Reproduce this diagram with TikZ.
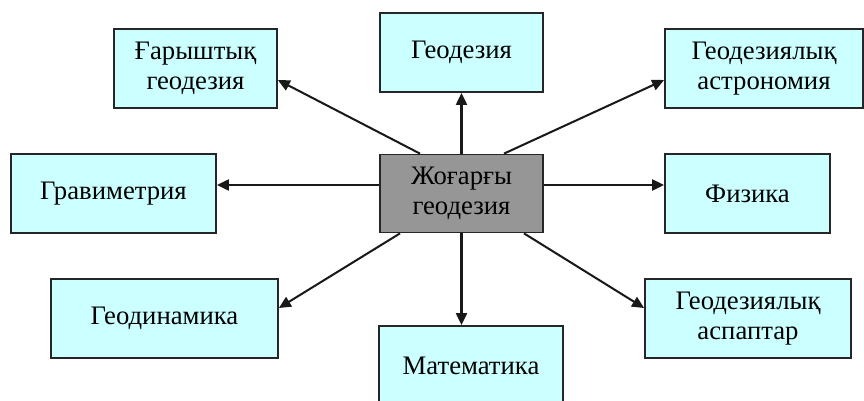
\documentclass[tikz,border=0pt]{standalone}
\usepackage{fontspec}
\setmainfont{Liberation Serif}
\usetikzlibrary{arrows.meta}
\definecolor{lightcyan}{HTML}{CCFFFF}
\definecolor{midgray}{HTML}{969696}
\tikzset{
  subjnode/.style = {align=center, inner sep=0pt, text centered, font=\fontsize{15.2}{17.4}\selectfont, draw=black!85, line width=1pt, minimum height=1.58cm},
  subj_c/.style = {subjnode, fill=lightcyan},
  subj_g/.style = {subjnode, fill=midgray, minimum height=1.56cm},
  link/.style = {draw=black!90, line width=1.15pt, -{Triangle[length=0.24cm,width=0.22cm]}}
}
\begin{document}
\begin{tikzpicture}
\useasboundingbox (0,0) rectangle (17.28,-8.02);
\node [subj_g, minimum width=3.26cm] (jg) at (9.23,-3.87) {Жоғарғы\\геодезия};
\node [subj_c, minimum width=3.26cm] (gar) at (3.91,-1.37) {Ғарыштық\\геодезия};
\node [subj_c, minimum width=3.26cm] (geo) at (9.23,-1.05) {Геодезия};
\node [subj_c, minimum width=3.96cm] (astr) at (15.28,-1.37) {Геодезиялық\\астрономия};
\node [subj_c, minimum width=4.10cm] (grav) at (2.27,-3.87) {Гравиметрия};
\node [subj_c, minimum width=3.30cm] (fiz) at (14.95,-3.87) {Физика};
\node [subj_c, minimum width=4.54cm] (gdin) at (3.29,-6.37) {Геодинамика};
\node [subj_c, minimum width=3.68cm] (mat) at (9.42,-7.31) {Математика};
\node [subj_c, minimum width=4.12cm] (asp) at (14.96,-6.37) {Геодезиялық\\аспаптар};
	\draw [link] ([xshift=-0.83cm]jg.north) -- ([yshift=-0.23cm]gar.east);
	\draw [link] (jg.north) -- (geo.south);
	\draw [link] ([xshift=0.85cm]jg.north) -- ([yshift=-0.23cm]astr.west);
	\draw [link] ([yshift=0.17cm]jg.west) -- ([yshift=0.17cm]grav.east);
	\draw [link] ([yshift=0.17cm]jg.east) -- ([yshift=0.17cm]fiz.west);
	\draw [link] ([xshift=-1.23cm]jg.south) -- ([yshift=0.21cm]gdin.east);
	\draw [link] (jg.south) -- (jg.south |- mat.north);
	\draw [link] ([xshift=1.25cm]jg.south) -- ([yshift=0.21cm]asp.west);
\end{tikzpicture}
\end{document}
